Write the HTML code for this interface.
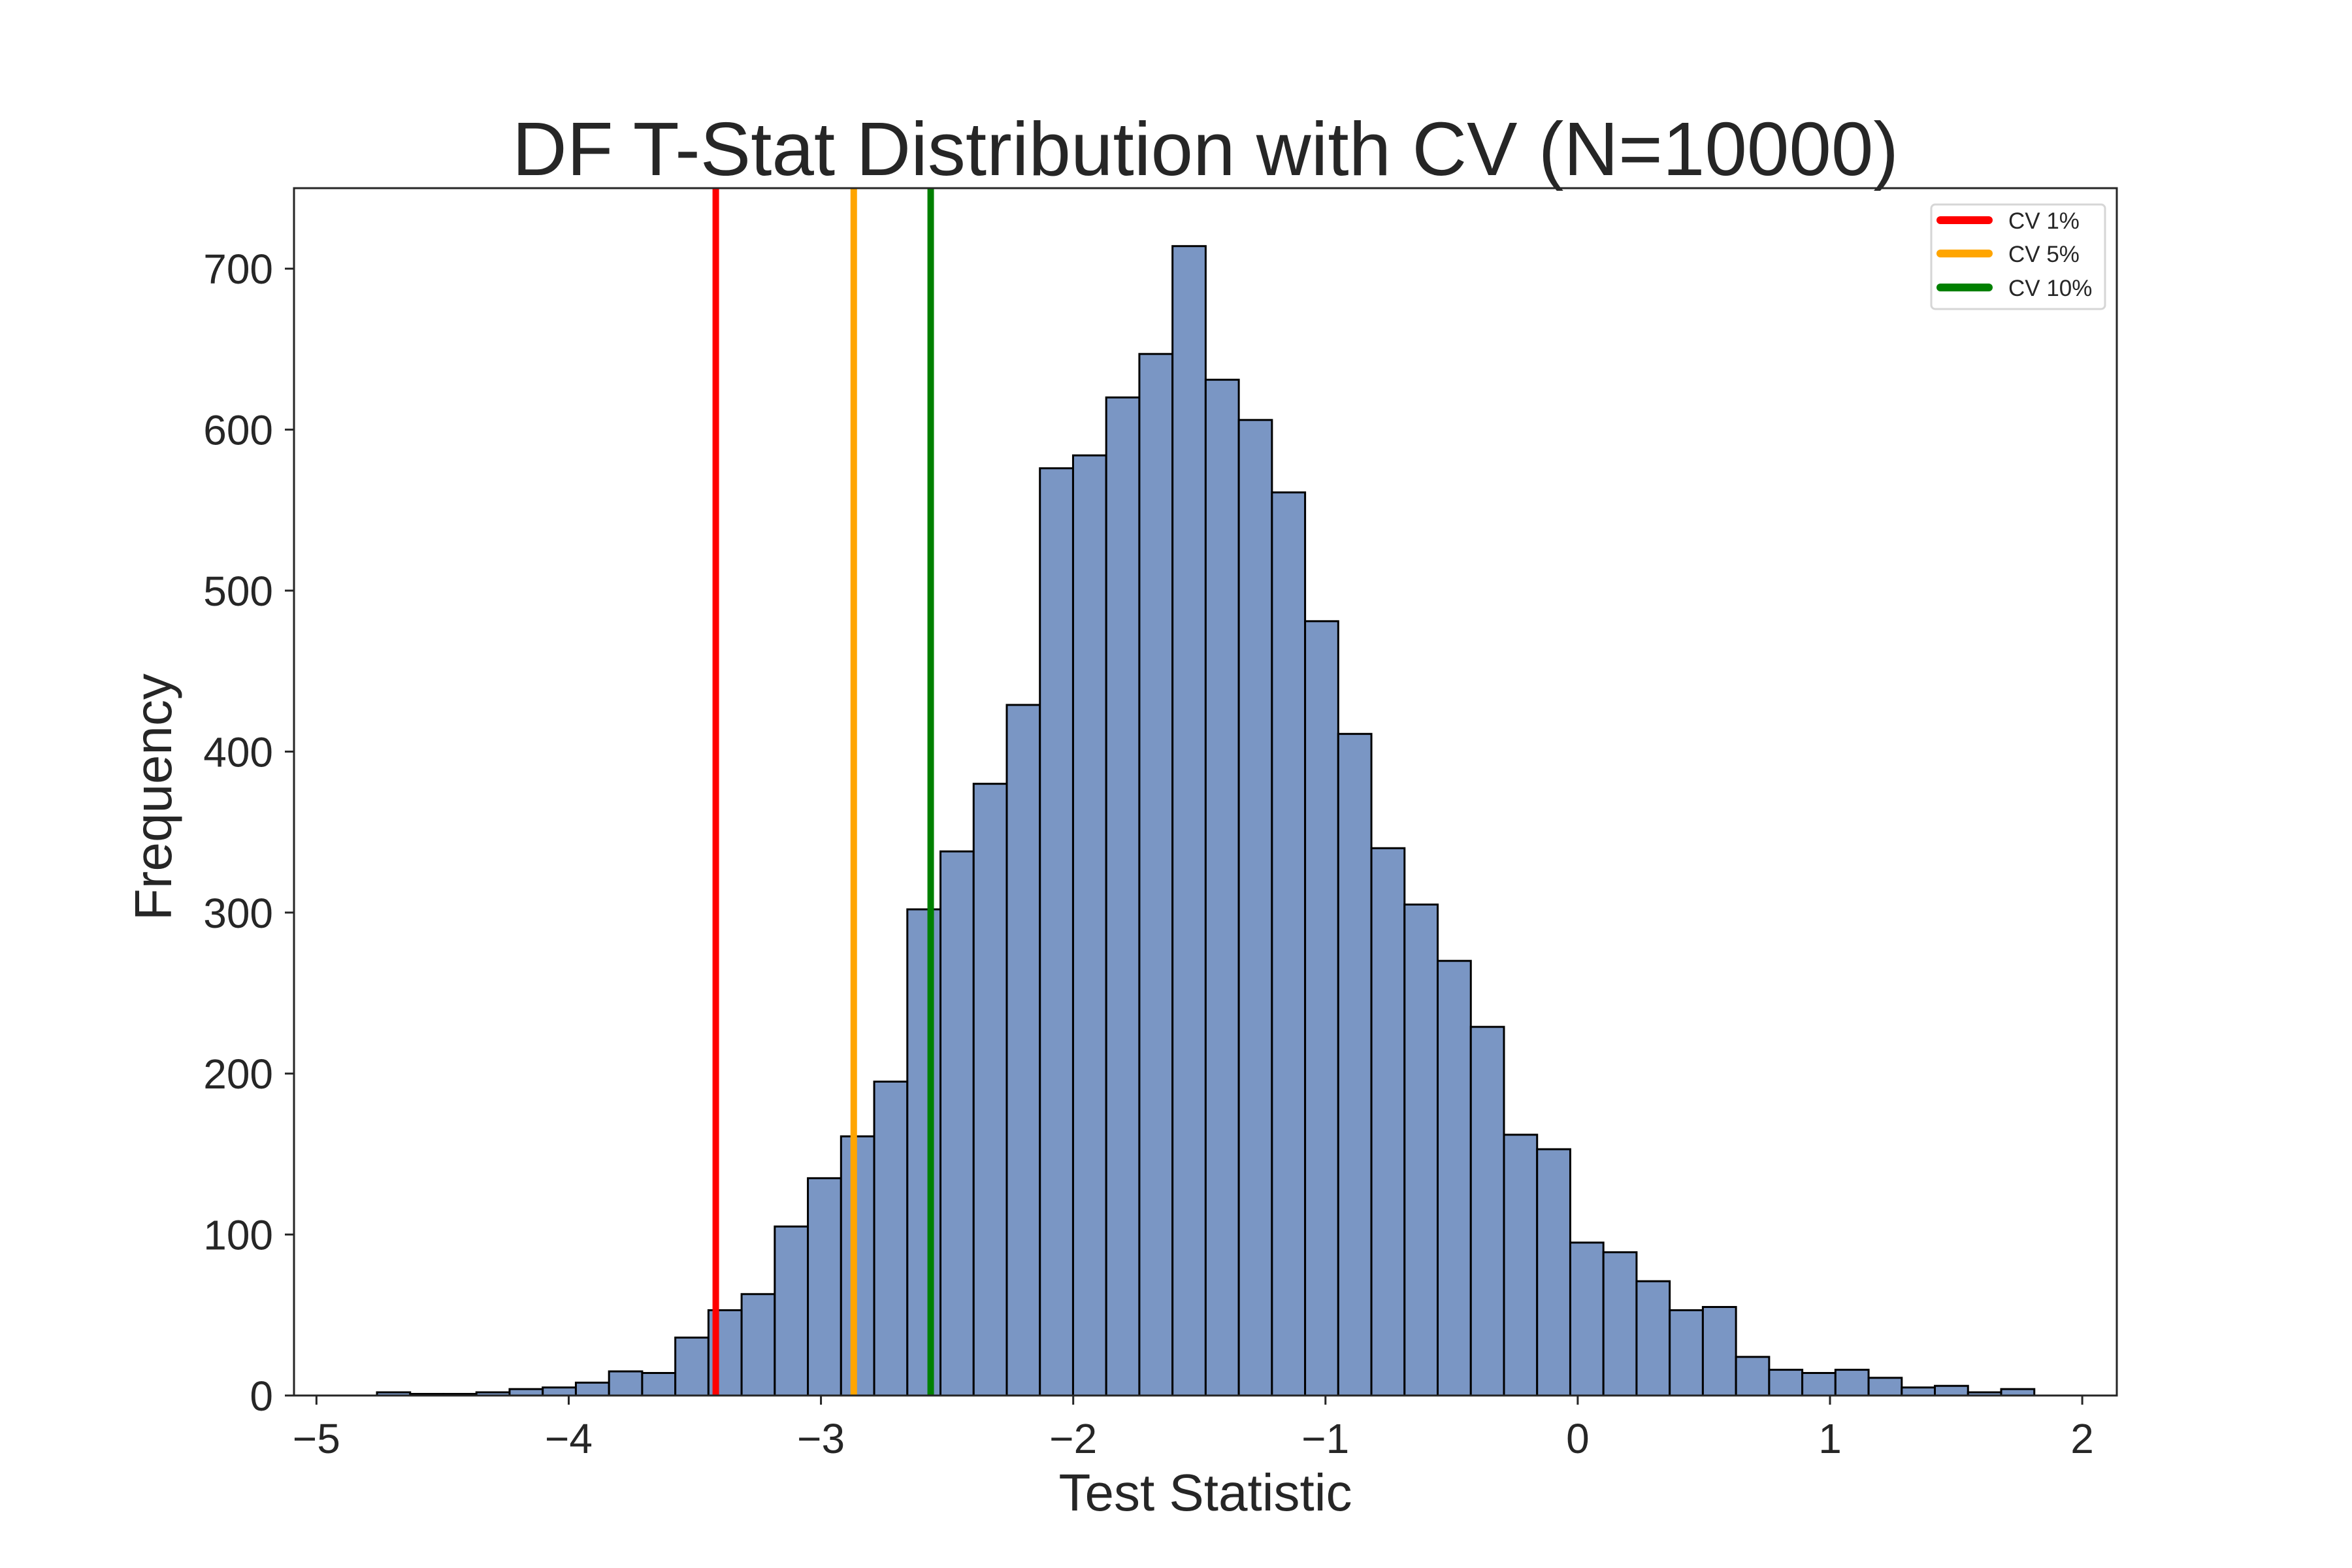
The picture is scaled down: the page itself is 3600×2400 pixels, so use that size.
<!DOCTYPE html>
<html><head><meta charset="utf-8"><style>
html,body{margin:0;padding:0;background:#fff;}
svg{display:block;}
text{font-family:"Liberation Sans",Arial,sans-serif;fill:#262626;}
</style></head><body>
<svg id="chart" width="3600" height="2400" viewBox="0 0 3600 2400" xmlns="http://www.w3.org/2000/svg">
<rect x="0" y="0" width="3600" height="2400" fill="#fff"/>
<text x="1845" y="268" font-size="116" text-anchor="middle">DF T-Stat Distribution with CV (N=10000)</text>
<g id="bars"></g>
<g id="cvlines"></g>
<g id="axes"></g>
<text x="1845" y="2312" font-size="80" text-anchor="middle">Test Statistic</text>
<text transform="translate(262,1220) rotate(-90)" font-size="80" text-anchor="middle">Frequency</text>
<g>
<rect x="2956" y="313" width="266" height="160" rx="6" fill="#fff" stroke="#d6d6d6" stroke-width="3"/>
<g>
<line x1="2970" y1="337" x2="3044" y2="337" stroke="#ff0000" stroke-width="12" stroke-linecap="round"/>
<text x="3074" y="350" font-size="35">CV 1%</text></g>
<g>
<line x1="2970" y1="388" x2="3044" y2="388" stroke="#ffa500" stroke-width="12" stroke-linecap="round"/>
<text x="3074" y="401" font-size="35">CV 5%</text></g>
<g>
<line x1="2970" y1="440" x2="3044" y2="440" stroke="#008000" stroke-width="12" stroke-linecap="round"/>
<text x="3074" y="453" font-size="35">CV 10%</text></g>
</g>
</svg>
<script>
const binStart = -4.76;
const binWidth = 0.1314;
const counts = [2,1,1,2,4,5,8,15,14,36,53,63,105,135,161,195,302,338,380,429,576,584,620,647,714,631,606,561,481,411,340,305,270,229,162,153,95,89,71,53,55,24,16,14,16,11,5,6,2,4];
const cvValues = [-3.417, -2.87, -2.565];
const cvColors = ["#ff0000", "#ffa500", "#008000"];
const cvNames = ["cv-1pct-line", "cv-5pct-line", "cv-10pct-line"];
const xTicks = [-5, -4, -3, -2, -1, 0, 1, 2];
const yTicks = [0, 100, 200, 300, 400, 500, 600, 700];

const NS = "http://www.w3.org/2000/svg";
const L = 450, R = 3240, T = 288, B = 2136;
const xMin = -5.089, xMax = 2.137, yMin = 0, yMax = 750;
function xs(v){ return L + (v - xMin) / (xMax - xMin) * (R - L); }
function ys(v){ return B - (v - yMin) / (yMax - yMin) * (B - T); }
function mk(tag, attrs, parent){ const e = document.createElementNS(NS, tag); for (const k in attrs) e.setAttribute(k, attrs[k]); parent.appendChild(e); return e; }

const bars = document.getElementById("bars");
counts.forEach((c, i) => {
  const x0 = xs(binStart + i * binWidth), x1 = xs(binStart + (i + 1) * binWidth);
  const r = mk("rect", {x: x0, y: ys(c), width: x1 - x0, height: ys(0) - ys(c), fill: "#7a96c4", stroke: "#000", "stroke-width": 3}, bars);
  
  
});

const cv = document.getElementById("cvlines");
cvValues.forEach((v, i) => {
  const l = mk("line", {x1: xs(v), x2: xs(v), y1: T, y2: B, stroke: cvColors[i], "stroke-width": 10}, cv);
  
  
});

const ax = document.getElementById("axes");
const frame = mk("rect", {x: L, y: T, width: R - L, height: B - T, fill: "none", stroke: "#262626", "stroke-width": 3}, ax);


xTicks.forEach(v => {
  const x = xs(v);
  const t = mk("line", {x1: x, x2: x, y1: B, y2: B + 14, stroke: "#262626", "stroke-width": 3}, ax);
  
  
  const lb = mk("text", {x: x, y: B + 88, "font-size": 64, "text-anchor": "middle"}, ax);
  lb.textContent = v < 0 ? "\u2212" + Math.abs(v) : String(v);
  
  
});
yTicks.forEach(v => {
  const y = ys(v);
  const t = mk("line", {x1: L - 14, x2: L, y1: y, y2: y, stroke: "#262626", "stroke-width": 3}, ax);
  
  
  const lb = mk("text", {x: L - 32, y: y + 23, "font-size": 64, "text-anchor": "end"}, ax);
  lb.textContent = String(v);
  
  
});
</script>
</body></html>
